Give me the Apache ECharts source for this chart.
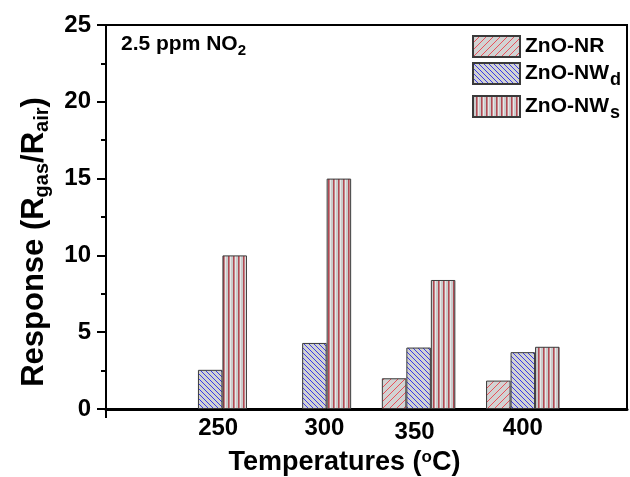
<!DOCTYPE html>
<html>
<head>
<meta charset="utf-8">
<script src="https://cdn.jsdelivr.net/npm/echarts@6/dist/echarts.min.js"></script>
<style>
  html, body { margin: 0; padding: 0; background: #fff; }
  #chart { width: 630px; height: 477px; }
</style>
</head>
<body>
<div id="chart"></div>
<script>
// Gas response to 2.5 ppm NO2 at each operating temperature ('-' = no bar)
const temps = [250, 300, 350, 400];
const znoNR = ['-', '-', 2.0, 1.85];
const znoNWd = [2.55, 4.3, 4.0, 3.7];
const znoNWs = [10.0, 15.0, 8.4, 4.05];
const seriesNames = ['ZnO-NR', 'ZnO-NWd', 'ZnO-NWs'];

const FONT = 'Liberation Sans, Arial, sans-serif';

// Hatched fills drawn on small canvases and tiled as patterns
function makeTile(w, h, draw) {
  const c = document.createElement('canvas');
  c.width = w; c.height = h;
  const ctx = c.getContext('2d');
  draw(ctx, w, h);
  return { image: c, repeat: 'repeat' };
}
const fillNR = makeTile(7, 7, (ctx, w, h) => {
  ctx.fillStyle = '#d2d3d3'; ctx.fillRect(0, 0, w, h);
  ctx.strokeStyle = '#e8505a'; ctx.lineWidth = 1;
  ctx.beginPath();
  ctx.moveTo(0, h); ctx.lineTo(w, 0);
  ctx.moveTo(-1, 1); ctx.lineTo(1, -1);
  ctx.moveTo(w - 1, h + 1); ctx.lineTo(w + 1, h - 1);
  ctx.stroke();
});
const fillNWd = makeTile(5, 5, (ctx, w, h) => {
  ctx.fillStyle = '#d2d3d3'; ctx.fillRect(0, 0, w, h);
  ctx.strokeStyle = '#3a3ae8'; ctx.lineWidth = 1;
  ctx.beginPath();
  ctx.moveTo(0, 0); ctx.lineTo(w, h);
  ctx.moveTo(-1, h - 1); ctx.lineTo(1, h + 1);
  ctx.moveTo(w - 1, -1); ctx.lineTo(w + 1, 1);
  ctx.stroke();
});
const fillNWs = makeTile(5, 5, (ctx, w, h) => {
  ctx.fillStyle = '#cacccc'; ctx.fillRect(0, 0, w, h);
  ctx.fillStyle = '#e6e8e8'; ctx.fillRect(0, 0, 1, h);
  ctx.fillStyle = '#b04a54'; ctx.fillRect(3, 0, 1, h);
  ctx.fillStyle = '#c98489'; ctx.fillRect(4, 0, 1, h);
});

const chart = echarts.init(document.getElementById('chart'), null, { renderer: 'canvas' });

const barStyle = (fill) => ({ color: fill, borderColor: '#3a3a3a', borderWidth: 1 });
const legendRich = {
  main: { fontFamily: FONT, fontWeight: 'bold', fontSize: 21, color: '#000' },
  sub: { fontFamily: FONT, fontWeight: 'bold', fontSize: 18, color: '#000', padding: [14, 0, 0, 1] }
};
function legendLabel(name) {
  const m = name.match(/^(ZnO-NW)([ds])$/);
  return m ? '{main|' + m[1] + '}{sub|' + m[2] + '}' : '{main|' + name + '}';
}
function makeLegend(name, top) {
  return {
    data: [name], left: 472, top: top, padding: 0,
    itemWidth: 47, itemHeight: 21, icon: 'rect',
    formatter: legendLabel,
    textStyle: { rich: legendRich },
    selectedMode: false
  };
}

// Small nudges of the temperature labels, as laid out on the original plot
const tickLabelNudge = {
  250: [0, 0, 0, 16],
  300: [0, 0, 0, 20],
  350: [4, 8, 0, 0],
  400: [0, 0, 0, 0]
};
const tickRich = {};
temps.forEach(t => {
  tickRich['t' + t] = { fontFamily: FONT, fontWeight: 'bold', fontSize: 24, color: '#000', padding: tickLabelNudge[t] };
});

const option = {
  animation: false,
  backgroundColor: '#fff',
  title: {
    text: '{t|2.5 ppm NO}{s|2}',
    left: 121, top: 31, padding: 0,
    textStyle: {
      rich: {
        t: { fontFamily: FONT, fontWeight: 'bold', fontSize: 21, color: '#000' },
        s: { fontFamily: FONT, fontWeight: 'bold', fontSize: 15, color: '#000', padding: [12, 0, 0, 0] }
      }
    }
  },
  legend: [
    makeLegend(seriesNames[0], 35),
    makeLegend(seriesNames[1], 62),
    makeLegend(seriesNames[2], 95)
  ],
  grid: {
    left: 106, right: 3, top: 25, bottom: 68,
    outerBoundsMode: 'none',
    show: true, borderColor: '#000', borderWidth: 2, backgroundColor: 'transparent'
  },
  xAxis: {
    type: 'value', min: 200, max: 450, interval: 50,
    splitLine: { show: false },
    axisLine: { show: true, lineStyle: { color: '#000', width: 3 } },
    axisTick: { show: true, customValues: [200], inside: false, length: 9, lineStyle: { color: '#000', width: 2 } },
    axisLabel: {
      customValues: temps, margin: 7,
      formatter: v => '{t' + v + '|' + v + '}',
      rich: tickRich
    },
    name: 'Temperatures ({sup|o}C)',
    nameLocation: 'middle', nameGap: 37,
    nameTextStyle: {
      fontFamily: FONT, fontWeight: 'bold', fontSize: 27, color: '#000',
      padding: [0, 44, 0, 0],
      rich: { sup: { fontFamily: FONT, fontWeight: 'bold', fontSize: 17, color: '#000', padding: [0, 0, 10, 0] } }
    }
  },
  yAxis: {
    type: 'value', min: 0, max: 25, interval: 5,
    splitLine: { show: false },
    axisLine: { show: true, lineStyle: { color: '#000', width: 2 } },
    axisTick: { show: true, inside: false, length: 9, lineStyle: { color: '#000', width: 2 } },
    minorTick: { show: true, splitNumber: 2, length: 5, lineStyle: { color: '#000', width: 2 } },
    axisLabel: {
      margin: 15,
      fontFamily: FONT, fontWeight: 'bold', fontSize: 24, color: '#000'
    },
    name: '{t|Response (R}{s|gas}{t|/R}{s|air}{t|)}',
    nameLocation: 'middle', nameGap: 54,
    nameTextStyle: {
      padding: [0, 50, 0, 0],
      rich: {
        t: { fontFamily: FONT, fontWeight: 'bold', fontSize: 31, color: '#000' },
        s: { fontFamily: FONT, fontWeight: 'bold', fontSize: 20, color: '#000', padding: [16, 0, 0, 0] }
      }
    }
  },
  series: [
    { name: seriesNames[0], type: 'bar', barWidth: 24.5, barGap: '0%',
      itemStyle: barStyle(fillNR), data: temps.map((t, i) => [t, znoNR[i]]) },
    { name: seriesNames[1], type: 'bar', barWidth: 24.5, barGap: '0%',
      itemStyle: barStyle(fillNWd), data: temps.map((t, i) => [t, znoNWd[i]]) },
    { name: seriesNames[2], type: 'bar', barWidth: 24.5, barGap: '0%',
      itemStyle: barStyle(fillNWs), data: temps.map((t, i) => [t, znoNWs[i]]) }
  ]
};
chart.setOption(option);
</script>
</body>
</html>
